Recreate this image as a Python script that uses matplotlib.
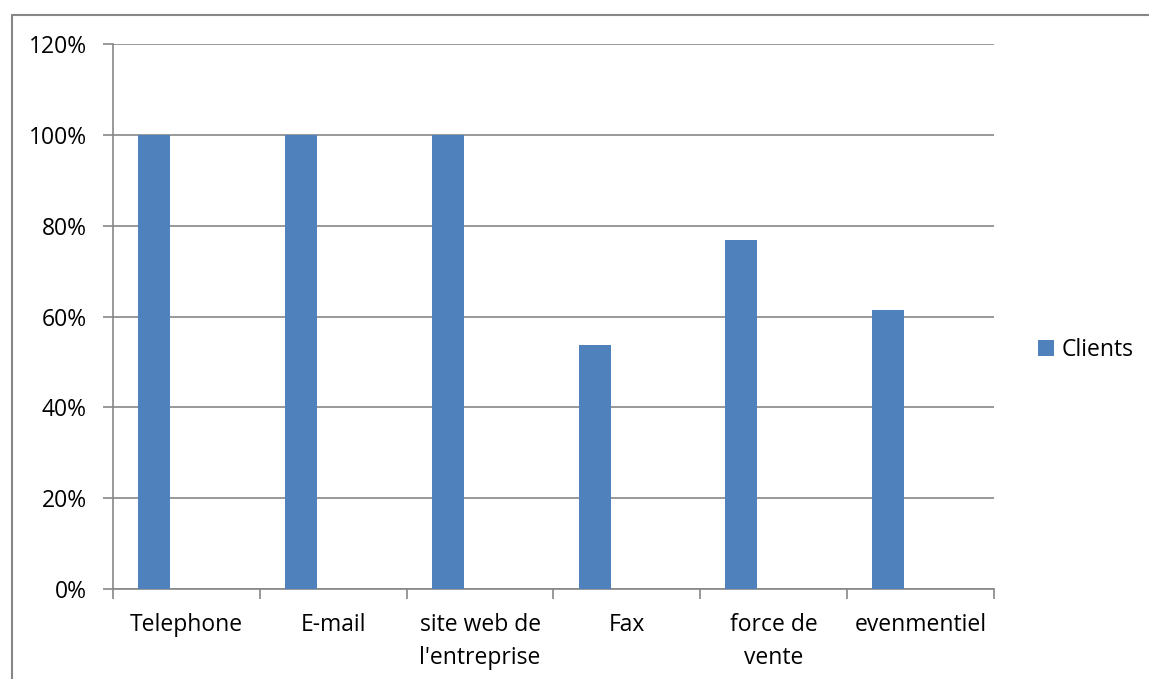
import matplotlib
matplotlib.use('Agg')
import matplotlib.pyplot as plt
from matplotlib.patches import Rectangle
import numpy as np

categories = ['Telephone', 'E-mail', 'site web de\nl\'entreprise', 'Fax', 'force de\nvente', 'evenmentiel']
clients = [1.0, 1.0, 1.0, 0.538, 0.769, 0.615]
yticks = [0, 0.2, 0.4, 0.6, 0.8, 1.0, 1.2]

plt.rcParams['font.family'] = ['Open Sans', 'DejaVu Sans']

W, H = 1149, 679
fig = plt.figure(figsize=(W / 100, H / 100), dpi=100)
ax = fig.add_axes([113 / W, (H - 589) / H, (994 - 113) / W, (589 - 44) / H])

gray = '#878787'
x = np.arange(len(categories))
ax.bar(x - 0.22, clients, width=0.218, color='#4F81BD', label='Clients', zorder=3)

ax.set_xlim(-0.5, len(categories) - 0.5)
ax.set_ylim(0, 1.2)
ax.set_yticks(yticks)
ax.set_yticklabels([f'{int(round(v * 100))}%' for v in yticks], fontsize=16.5)
ax.yaxis.grid(True, color=gray, linewidth=1.2, zorder=0)

ax.set_xticks(x)
ax.set_xticklabels(categories, fontsize=16.5, linespacing=1.5)
ax.set_xticks(np.arange(len(categories) + 1) - 0.5, minor=True)
ax.tick_params(axis='x', which='major', length=0, pad=17)
ax.tick_params(axis='x', which='minor', length=7, width=1.2, color=gray, direction='out')
ax.tick_params(axis='y', length=7, width=1.2, color=gray, pad=12)

for s in ['top', 'right']:
    ax.spines[s].set_visible(False)
for s in ['left', 'bottom']:
    ax.spines[s].set_color(gray)
    ax.spines[s].set_linewidth(1.2)

ax.legend(loc='center left', bbox_to_anchor=(1.039, 0.4385), frameon=False,
          fontsize=16.5, handlelength=0.7, handleheight=0.7, handletextpad=0.35,
          borderaxespad=0)

fig.patches.append(Rectangle((12 / W, -0.1), 1.2, (H - 15) / H + 0.1,
                             transform=fig.transFigure, fill=False,
                             edgecolor=gray, linewidth=1.5))

fig.savefig('out.png', dpi=100)
